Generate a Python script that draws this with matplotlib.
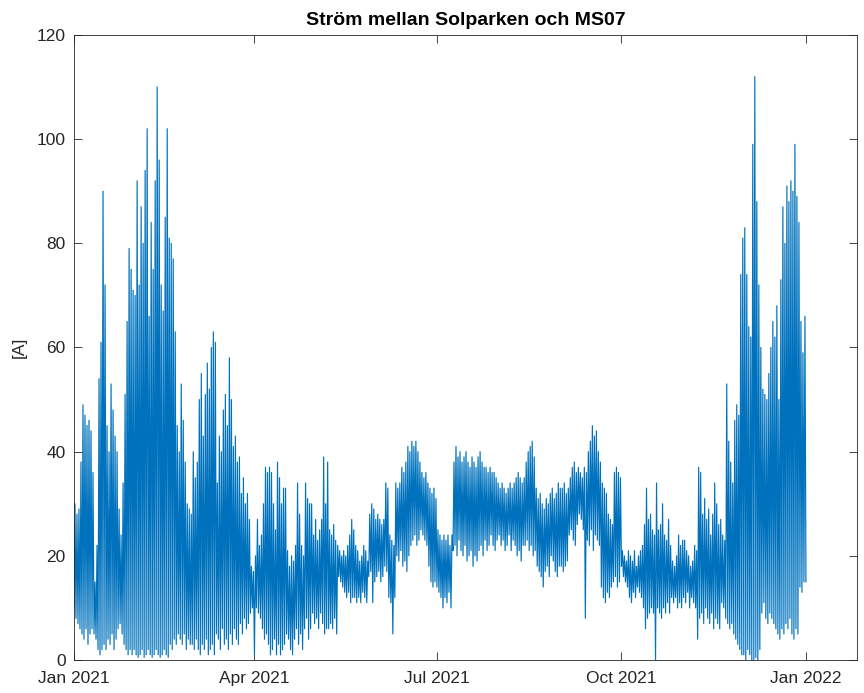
"""Current between Solparken and MS07, 2021 (daily peak / low envelope)."""

import numpy as np
import matplotlib
matplotlib.use("Agg")
import matplotlib.pyplot as plt
import matplotlib.dates as mdates

plt.rcParams["font.family"] = ["Liberation Sans", "DejaVu Sans"]

# daily peak and daily low current [A]
jan_peak = [30, 28, 29, 38, 49, 47, 45, 46, 44, 36, 15, 22, 54, 61, 90, 72,
            45, 40, 53, 48, 43, 40, 29, 24, 34, 51, 65, 79, 75, 71, 70]
jan_low = [10, 8, 7, 6, 5, 4, 6, 3, 5, 6, 5, 4, 2, 1, 2, 3,
           2, 4, 3, 5, 2, 4, 6, 7, 5, 3, 2, 1, 2, 1, 2]
feb_peak = [92, 72, 87, 80, 94, 102, 66, 84, 75, 92, 110, 96, 72, 67,
            85, 102, 81, 80, 77, 63, 45, 40, 53, 46, 38, 30, 29, 28]
feb_low = [1, 0.5, 1, 2, 0.5, 1, 2, 1, 0.5, 1, 2, 1, 0.5, 1,
           2, 1, 0.5, 3, 2, 4, 3, 5, 4, 3, 5, 2, 4, 3]
mar_peak = [40, 35, 38, 50, 55, 43, 51, 57, 52, 60, 63, 61, 34, 43, 40, 48,
            51, 45, 58, 50, 41, 43, 38, 39, 32, 35, 30, 32, 27, 18, 17]
mar_low = [3, 2, 4, 2, 1, 3, 2, 4, 1, 2, 3, 1, 5, 4, 2, 6,
           3, 4, 2, 5, 3, 6, 4, 3, 7, 5, 8, 6, 7, 9, 10]
apr_peak = [20, 27, 22, 24, 30, 37, 36, 37, 36, 30, 25, 38, 35, 30, 33,
            33, 21, 18, 20, 19, 22, 34, 28, 22, 20, 34, 31, 30, 30, 24]
apr_low = [1, 10, 9, 8, 6, 4, 5, 3, 1, 2, 4, 1, 3, 1, 2,
           3, 5, 4, 2, 1, 4, 6, 3, 5, 2, 6, 8, 4, 6, 9]
may_peak = [27, 23, 25, 27, 39, 30, 38, 25, 24, 26, 23, 22, 21, 20, 21, 20,
            22, 24, 27, 25, 22, 21, 19, 20, 22, 21, 19, 28, 30, 29, 27]
may_low = [7, 8, 6, 9, 7, 5, 6, 6, 7, 6, 8, 5, 16, 15, 14, 13,
           12, 13, 11, 12, 12, 11, 12, 11, 13, 12, 11, 16, 17, 11, 15]
jun_peak = [28, 27, 26, 27, 34, 33, 24, 23, 22, 34, 33, 34, 37, 36, 38,
            41, 40, 42, 41, 42, 40, 38, 36, 35, 36, 34, 33, 32, 33, 31]
jun_low = [16, 17, 15, 16, 18, 17, 12, 11, 5, 12, 20, 19, 21, 18, 19,
           17, 20, 22, 23, 24, 22, 23, 25, 24, 23, 22, 18, 15, 14, 15]
jul_peak = [25, 24, 23, 24, 23, 24, 22, 24, 38, 41, 39, 40, 38, 39, 40, 38,
            37, 39, 38, 37, 39, 40, 38, 37, 37, 36, 37, 36, 36, 35, 34]
jul_low = [14, 13, 12, 10, 12, 11, 13, 10, 21, 22, 20, 23, 21, 20, 22, 19,
           20, 21, 18, 20, 19, 21, 22, 20, 23, 21, 22, 24, 22, 21, 23]
aug_peak = [33, 34, 33, 32, 33, 34, 33, 34, 35, 36, 35, 34, 35, 38, 40, 41,
            42, 39, 33, 31, 32, 30, 29, 31, 30, 32, 33, 31, 32, 34, 33]
aug_low = [24, 22, 23, 21, 22, 24, 21, 23, 22, 20, 21, 19, 22, 22, 23, 21,
           22, 20, 21, 18, 17, 16, 14, 17, 18, 16, 20, 19, 17, 16, 18]
sep_peak = [33, 34, 32, 33, 35, 37, 38, 36, 37, 36, 35, 37, 36, 40, 42,
            45, 43, 44, 40, 38, 34, 33, 32, 28, 27, 26, 36, 37, 36, 35]
sep_low = [18, 17, 18, 19, 24, 25, 23, 22, 26, 28, 27, 25, 8, 23, 22,
           25, 21, 24, 23, 22, 14, 12, 11, 13, 12, 14, 15, 16, 14, 15]
oct_peak = [21, 20, 19, 21, 20, 19, 21, 18, 20, 21, 22, 26, 33, 27, 28, 25,
            24, 34, 25, 26, 30, 24, 23, 27, 22, 19, 18, 20, 24, 22, 23]
oct_low = [18, 16, 15, 14, 12, 11, 13, 12, 14, 13, 12, 10, 6, 8, 9, 10,
           9, 0, 10, 9, 8, 10, 9, 11, 9, 12, 11, 12, 10, 11, 10]
nov_peak = [23, 21, 20, 18, 19, 22, 21, 37, 36, 28, 31, 27, 29, 24, 28,
            34, 30, 26, 27, 24, 23, 53, 42, 38, 34, 46, 49, 47, 74, 81]
nov_low = [12, 11, 13, 10, 12, 11, 10, 4, 8, 9, 7, 10, 8, 7, 9,
           6, 8, 7, 6, 11, 10, 8, 7, 6, 7, 5, 4, 3, 2, 1]
dec_peak = [83, 74, 64, 62, 99, 112, 88, 72, 60, 52, 51, 50, 55, 60, 65, 62,
            68, 50, 73, 87, 80, 91, 88, 92, 90, 99, 89, 84, 65, 59, 66]
dec_low = [1, 0, 2, 1, 0, 0, 0.5, 0, 2, 9, 11, 8, 7, 9, 8, 7,
           6, 5, 4, 6, 5, 7, 6, 8, 5, 4, 6, 5, 14, 13, 15]
last_value = 15

peak = np.array(jan_peak + feb_peak + mar_peak + apr_peak + may_peak + jun_peak
                + jul_peak + aug_peak + sep_peak + oct_peak + nov_peak + dec_peak)
low = np.array(jan_low + feb_low + mar_low + apr_low + may_low + jun_low
               + jul_low + aug_low + sep_low + oct_low + nov_low + dec_low)

start = np.datetime64("2021-01-01T00:00")
n = len(peak)
t_low = start + np.arange(n) * np.timedelta64(24, "h")
t_peak = t_low + np.timedelta64(12, "h")

t = np.empty(2 * n + 1, dtype="datetime64[m]")
t[0:-1:2] = t_low
t[1::2] = t_peak
t[-1] = start + np.timedelta64(24 * n, "h")
y = np.empty(2 * n + 1)
y[0:-1:2] = low
y[1::2] = peak
y[-1] = last_value

fig = plt.figure(figsize=(8.64, 6.93), dpi=100)
ax = fig.add_axes([0.0856, 0.0476, 0.9064, 0.902])
ax.plot(t, y, color="#0072BD", lw=0.85)

ax.set_xlim(np.datetime64("2021-01-01T00:00"), np.datetime64("2022-01-26T12:00"))
ax.set_ylim(0, 120)
ax.set_yticks(np.arange(0, 121, 20))
ax.xaxis.set_major_locator(mdates.MonthLocator(bymonth=[1, 4, 7, 10]))
ax.xaxis.set_major_formatter(mdates.DateFormatter("%b %Y"))

ax.tick_params(direction="in", top=True, right=True, length=6, width=0.6,
               color="#262626", labelcolor="#262626", labelsize=12.5)
ax.tick_params(axis="x", pad=8)
ax.tick_params(axis="y", pad=6)
for s in ax.spines.values():
    s.set_color("#262626")
    s.set_linewidth(0.6)

ax.set_ylabel("[A]", fontsize=12.5, color="#262626", labelpad=7)
ax.set_title("Ström mellan Solparken och MS07", fontsize=14,
             fontweight="bold", pad=7)

fig.savefig("out.png", dpi=100)
